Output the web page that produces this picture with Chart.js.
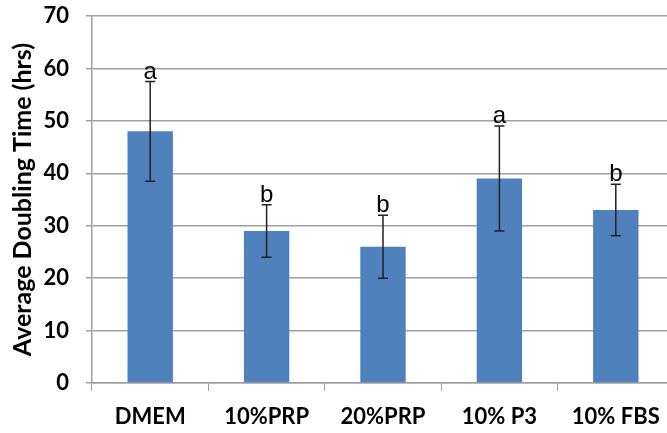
<!DOCTYPE html>
<html>
<head>
<meta charset="utf-8">
<script src="https://cdn.jsdelivr.net/npm/chart.js@4"></script>
<style>
  html, body { margin: 0; padding: 0; background: #fff; overflow: hidden; width: 667px; height: 433px; }
  #wrap { width: 674px; height: 433px; }
</style>
</head>
<body>
<div id="wrap"><canvas id="grafico" width="674" height="433"></canvas></div>
<script>
// dados do grafico
var categorias = ['DMEM', '10%PRP', '20%PRP', '10% P3', '10% FBS']
var medias = [48, 29, 26, 39, 33]
var erros = [9.5, 5, 6, 10, 4.9]
var letras = ['a', 'b', 'b', 'a', 'b']
var ticksY = [0, 10, 20, 30, 40, 50, 60, 70]

var fonteEixo = '"Lato", "Open Sans", sans-serif'

// desenha barras de erro e letras de significancia
var errorBars = {
    id: 'errorBars',
    afterDatasetsDraw: function(chart){
        var ctx = chart.ctx
        var meta = chart.getDatasetMeta(0)
        var y = chart.scales.y
        ctx.save()
        meta.data.forEach(function(bar, i){
            var yTop = y.getPixelForValue(medias[i] + erros[i])
            var yBot = y.getPixelForValue(medias[i] - erros[i])
            ctx.strokeStyle = '#222'
            ctx.lineWidth = 1.5
            ctx.beginPath()
            ctx.moveTo(bar.x, yTop); ctx.lineTo(bar.x, yBot)
            ctx.moveTo(bar.x - 5, yTop); ctx.lineTo(bar.x + 5, yTop)
            ctx.moveTo(bar.x - 5, yBot); ctx.lineTo(bar.x + 5, yBot)
            ctx.stroke()
            //letra acima da barra de erro
            ctx.fillStyle = '#000'
            ctx.font = '24px "Liberation Sans", Arial, sans-serif'
            ctx.textAlign = 'center'
            ctx.textBaseline = 'alphabetic'
            ctx.fillText(letras[i], bar.x, yTop - 3)
        })
        ctx.restore()
    }
}

new Chart(document.getElementById('grafico').getContext('2d'), {
    type: 'bar',
    data: {
        labels: categorias,
        datasets: [{
            data: medias,
            backgroundColor: '#4F81BD',
            borderWidth: 0,
            categoryPercentage: 1,
            barPercentage: 0.39
        }]
    },
    options: {
        responsive: false,
        animation: false,
        layout: { padding: 0 },
        plugins: { legend: { display: false }, tooltip: { enabled: false } },
        scales: {
            x: {
                grid: {
                    offset: true,
                    drawOnChartArea: false,
                    tickLength: 8,
                    color: '#A0A0A0'
                },
                border: { color: '#A0A0A0', width: 1.5 },
                ticks: {
                    color: '#000',
                    padding: 13,
                    font: { family: fonteEixo, size: 22, weight: 'bold' }
                },
                afterFit: function(s){ s.height = 50 }
            },
            y: {
                min: 0,
                max: 70,
                afterBuildTicks: function(s){ s.ticks = ticksY.map(function(v){ return { value: v } }) },
                grid: { color: '#A0A0A0', lineWidth: 1.5, tickLength: 6 },
                border: { color: '#A0A0A0', width: 1.5 },
                ticks: {
                    color: '#000',
                    padding: 17,
                    font: { family: fonteEixo, size: 22, weight: 'bold' }
                },
                title: {
                    display: true,
                    text: 'Average Doubling Time (hrs)',
                    color: '#000',
                    padding: { top: 8, bottom: 0 },
                    font: { family: fonteEixo, size: 25, weight: 'bold' }
                },
                afterFit: function(s){
                    s.width = 92
                    s.paddingTop = 16
                }
            }
        }
    },
    plugins: [errorBars]
})
</script>
</body>
</html>
